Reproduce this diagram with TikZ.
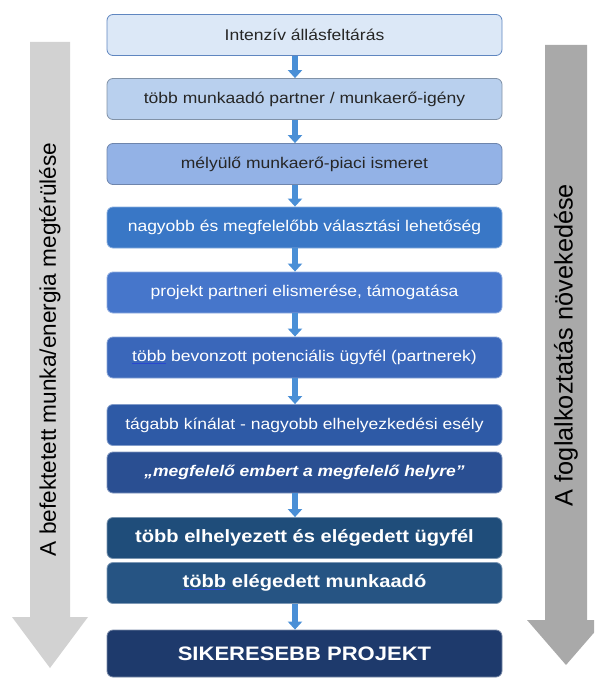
\documentclass[tikz,border=0pt]{standalone}
\usepackage{fontspec}
\setmainfont{Liberation Sans}
\newfontfamily\boxfont[FakeStretch=1.13]{Liberation Sans}
\usetikzlibrary{arrows.meta}

\definecolor{sidelight}{HTML}{D2D2D2}
\definecolor{sidedark}{HTML}{A9A9A9}
\definecolor{flowblue}{HTML}{4A8FD6}
\definecolor{ulblue}{HTML}{2A48D0}
\definecolor{darktext}{HTML}{262626}
\definecolor{borderA}{HTML}{5F86C0}
\definecolor{fillA}{HTML}{DCE8F7}
\definecolor{fillB}{HTML}{B9D0EE}
\definecolor{fillC}{HTML}{93B2E6}
\definecolor{fillD}{HTML}{3977C6}
\definecolor{fillE}{HTML}{4676CB}
\definecolor{fillF}{HTML}{3A67BA}
\definecolor{fillG}{HTML}{2E5AA6}
\definecolor{fillH}{HTML}{2A4F92}
\definecolor{fillI}{HTML}{1F4D7A}
\definecolor{fillJ}{HTML}{265483}
\definecolor{fillK}{HTML}{1E3A6C}

% thin blue underline under a marked word
\newcommand\markword[1]{\setbox0\hbox{#1}\rlap{\textcolor{ulblue}{\rule[-2.6pt]{\wd0}{0.8pt}}}\box0\relax}

\tikzset{
  stagebox/.style={rounded corners=6pt, minimum width=395pt, minimum height=41pt,
    inner sep=0pt, line width=0.8pt, font=\boxfont\fontsize{15.5}{18}\selectfont},
  lightbox/.style={stagebox, text=darktext},
  darkbox/.style={stagebox, text=white},
  boldbox/.style={darkbox, font=\boxfont\bfseries\fontsize{17.8}{20}\selectfont},
  flowarrow/.style={draw=flowblue, line width=6pt, -{Triangle[width=14pt,length=8pt]}},
  sidetext/.style={rotate=90, text=black}
}

\begin{document}
\begin{tikzpicture}[x=1pt,y=-1pt]
\useasboundingbox (0,0) rectangle (594,679);

% side arrows
\begin{scope}
\clip (0,0) rectangle (594,679);
\fill[sidelight] (30,42) -- (70,42) -- (70,617) -- (88,617) -- (50,668) -- (12,617) -- (30,617) -- cycle;
\fill[sidedark] (545,45) -- (587,45) -- (587,620) -- (605,620) -- (566,665) -- (527,620) -- (545,620) -- cycle;
\end{scope}
\node[sidetext, font=\fontsize{22.6}{26}\selectfont] (lefttext) at (50,349.5) {A befektetett munka/energia megtérülése};
\node[sidetext, font=\fontsize{25.3}{29}\selectfont] (righttext) at (566,345) {A foglalkoztatás növekedése};

% stages
\node[lightbox, fill=fillA, draw=borderA] (b1) at (304.5,35) {Intenzív állásfeltárás};
\node[lightbox, fill=fillB, draw=fillB!70!black] (b2) at (304.5,99) {több munkaadó partner / munkaerő-igény};
\node[lightbox, fill=fillC, draw=fillC!75!black] (b3) at (304.5,164) {mélyülő munkaerő-piaci ismeret};
\node[darkbox, fill=fillD, draw=fillD!60!white] (b4) at (304.5,227.5) {nagyobb és megfelelőbb választási lehetőség};
\node[darkbox, fill=fillE, draw=fillE!60!white] (b5) at (304.5,292.5) {projekt partneri elismerése, támogatása};
\node[darkbox, fill=fillF, draw=fillF!60!white] (b6) at (304.5,357.5) {\markword{több} bevonzott potenciális ügyfél (partnerek)};
\node[darkbox, fill=fillG, draw=fillG!60!white] (b7) at (304.5,425) {tágabb kínálat - nagyobb elhelyezkedési esély};
\node[darkbox, fill=fillH, draw=fillH!60!white, font=\boxfont\bfseries\itshape\fontsize{15.5}{18}\selectfont] (b8) at (304.5,472.5) {„megfelelő embert a megfelelő helyre”};
\node[boldbox, fill=fillI, draw=fillI!60!white] (b9) at (304.5,538) {több elhelyezett és elégedett ügyfél};
\node[boldbox, fill=fillJ, draw=fillJ!60!white] (b10) at (304.5,583) {\markword{több} elégedett munkaadó};
\node[boldbox, fill=fillK, draw=fillK!60!white, minimum height=47pt, font=\boxfont\bfseries\fontsize{19.5}{22}\selectfont] (b11) at (304.5,653.5) {SIKERESEBB PROJEKT};

% connectors
\coordinate (ax) at (295,0);
\foreach \a/\b in {b1/b2, b2/b3, b3/b4, b4/b5, b5/b6, b6/b7, b8/b9, b10/b11}
  \draw[flowarrow] (\a.south -| ax) -- (\b.north -| ax);
\end{tikzpicture}
\end{document}
